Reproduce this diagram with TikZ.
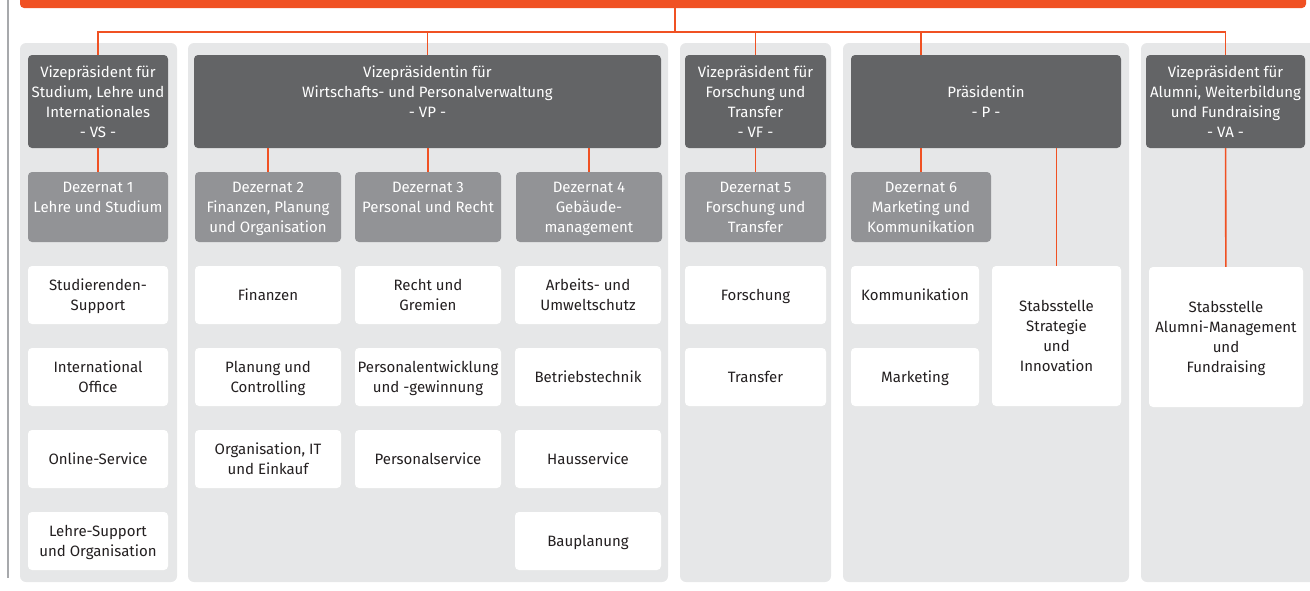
\documentclass[tikz,border=0pt]{standalone}
\usepackage{fontspec}
\setmainfont{Fira Sans}

\definecolor{hsorange}{HTML}{F05123}
\definecolor{hsdark}{HTML}{636466}
\definecolor{hsmid}{HTML}{929396}
\definecolor{hsbg}{HTML}{E6E7E8}
\definecolor{hsrule}{HTML}{A7A9AC}
\definecolor{hstext}{HTML}{231F20}

\tikzset{
  box/.style={rounded corners=4pt,inner sep=0pt,align=center,text depth=0pt,
    font=\fontsize{15}{20}\selectfont},
  vpbox/.style={box,fill=hsdark,text=white,minimum height=93},
  dezbox/.style={box,fill=hsmid,text=white,minimum height=70},
  unitbox/.style={box,fill=white,text=hstext,minimum height=58},
  stabbox/.style={box,fill=white,text=hstext,minimum height=140},
  colbg/.style={fill=hsbg,rounded corners=6pt},
  orgline/.style={draw=hsorange,line width=1.6pt}
}

\begin{document}
\begin{tikzpicture}[x=1pt,y=-1pt]
\useasboundingbox (0,0) rectangle (1310,590);
% The rule on the left and the top bar
\draw[hsrule,line width=1.5pt] (8,0) -- (8,578);
\node[fill=hsorange,rounded corners=4pt,minimum width=1286,minimum height=20,inner sep=0pt] (bar) at (663,-2) {};
\coordinate (hub) at (675,32);

% The columns
\foreach \xa/\xb in {20/177,188/668,680/831,843/1129,1141/1320}
  \fill[colbg] (\xa,43) rectangle (\xb,582);

% Vice presidents and president
\node[vpbox,minimum width=140] (vs) at (98,101.5) {Vizepräsident für\\Studium, Lehre und\\Internationales\\- VS -};
\node[vpbox,minimum width=467] (vp) at (427.5,101.5) {Vizepräsidentin für\\Wirtschafts- und Personalverwaltung\\- VP -\\~};
\node[vpbox,minimum width=141] (vf) at (755.5,101.5) {Vizepräsident für\\Forschung und\\Transfer\\- VF -};
\node[vpbox,minimum width=270] (p) at (986,101.5) {Präsidentin\\- P -};
\node[vpbox,minimum width=159] (va) at (1225.5,101.5) {Vizepräsident für\\Alumni, Weiterbildung\\und Fundraising\\- VA -};

% Dezernate
\node[dezbox,minimum width=140] (d1) at (98,207) {Dezernat 1\\Lehre und Studium\\~};
\node[dezbox,minimum width=146] (d2) at (268,207) {Dezernat 2\\Finanzen, Planung\\und Organisation};
\node[dezbox,minimum width=146] (d3) at (428,207) {Dezernat 3\\Personal und Recht\\~};
\node[dezbox,minimum width=146] (d4) at (589,207) {Dezernat 4\\Gebäude-\\management};
\node[dezbox,minimum width=141] (d5) at (755.5,207) {Dezernat 5\\Forschung und\\Transfer};
\node[dezbox,minimum width=140] (d6) at (921,207) {Dezernat 6\\Marketing und\\Kommunikation};

% Units
\node[unitbox,minimum width=140] (u11) at (98,295) {Studierenden-\\Support};
\node[unitbox,minimum width=140] (u12) at (98,377) {International\\Office};
\node[unitbox,minimum width=140] (u13) at (98,459) {Online-Service};
\node[unitbox,minimum width=140] (u14) at (98,541) {Lehre-Support\\und Organisation};

\node[unitbox,minimum width=146] (u21) at (268,295) {Finanzen};
\node[unitbox,minimum width=146] (u22) at (268,377) {Planung und\\Controlling};
\node[unitbox,minimum width=146] (u23) at (268,459) {Organisation, IT\\und Einkauf};

\node[unitbox,minimum width=146] (u31) at (428,295) {Recht und\\Gremien};
\node[unitbox,minimum width=146] (u32) at (428,377) {Personalentwicklung\\und -gewinnung};
\node[unitbox,minimum width=146] (u33) at (428,459) {Personalservice};

\node[unitbox,minimum width=146] (u41) at (588,295) {Arbeits- und\\Umweltschutz};
\node[unitbox,minimum width=146] (u42) at (588,377) {Betriebstechnik};
\node[unitbox,minimum width=146] (u43) at (588,459) {Hausservice};
\node[unitbox,minimum width=146] (u44) at (588,541) {Bauplanung};

\node[unitbox,minimum width=141] (u51) at (755.5,295) {Forschung};
\node[unitbox,minimum width=141] (u52) at (755.5,377) {Transfer};

\node[unitbox,minimum width=128] (u61) at (915,295) {Kommunikation};
\node[unitbox,minimum width=128] (u62) at (915,377) {Marketing};

\node[stabbox,minimum width=129] (stab) at (1056.5,336) {Stabsstelle\\Strategie\\und\\Innovation};
\node[stabbox,minimum width=154] (alumni) at (1226,337) {Stabsstelle\\Alumni-Management\\und\\Fundraising};

% Orange connectors
\draw[orgline] (bar.south -| hub) -- (hub);
\draw[orgline] (vs.north) |- (hub) -| (va.north);
\draw[orgline] (vp.north) -- (vp.north |- hub);
\draw[orgline] (vf.north) -- (vf.north |- hub);
\draw[orgline] (d6 |- p.north) -- (d6 |- hub);
\draw[orgline] (vs) -- (d1);
\draw[orgline] (vp.south -| d2) -- (d2);
\draw[orgline] (vp.south -| d3) -- (d3);
\draw[orgline] (vp.south -| d4) -- (d4);
\draw[orgline] (vf) -- (d5);
\draw[orgline] (p.south -| d6) -- (d6);
\draw[orgline] (p.south -| stab) -- (stab);
\draw[orgline] (va) -- (alumni);

\end{tikzpicture}
\end{document}
